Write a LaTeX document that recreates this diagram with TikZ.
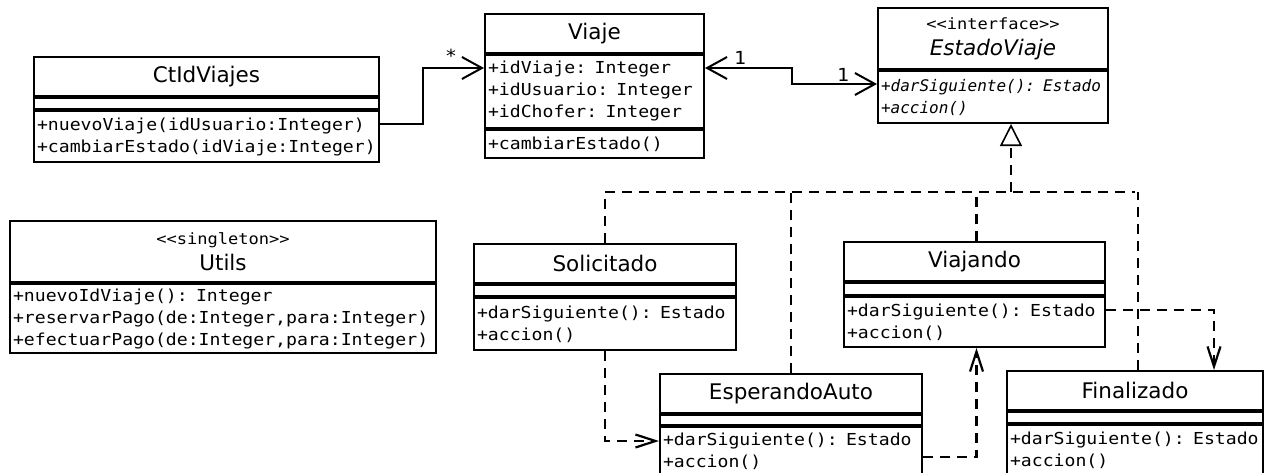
\documentclass[tikz,border=0pt]{standalone}
\usepackage{fontspec}
\usepackage{tikz}
\usetikzlibrary{arrows.meta,positioning}
\newfontfamily\umlsans{DejaVu Sans}
\newfontfamily\umlmono{DejaVu Sans Mono}[FakeStretch=1.1]
\newfontfamily\umlslant{DejaVu Sans Mono Oblique}
\newcommand{\namefont}{\umlsans\fontsize{21.5pt}{26pt}\selectfont}
\newcommand{\opsfont}{\umlmono\fontsize{16.5pt}{22pt}\selectfont\hyphenpenalty=10000\exhyphenpenalty=10000}
\newcommand{\slantfont}{\umlslant\fontsize{16pt}{22pt}\selectfont\hyphenpenalty=10000\exhyphenpenalty=10000}
\newcommand{\stereofont}{\umlmono\fontsize{15.5pt}{17pt}\selectfont}
\newcommand{\multfont}{\umlmono\fontsize{18pt}{20pt}\selectfont}

\begin{document}
\begin{tikzpicture}[x=1pt,y=-1pt,
  umlhead/.style={draw,line width=2pt,anchor=north west,inner sep=0pt,align=center,font=\namefont},
  umlpart/.style={draw,line width=2pt,anchor=north west,inner xsep=3pt,inner ysep=0pt,align=left,font=\opsfont},
  mult/.style={inner sep=0pt,font=\multfont},
  assoc/.style={line width=2pt},
  dep/.style={line width=2.2pt,dash pattern=on 10pt off 7pt},
  navtip/.style={-{Straight Barb[length=20pt,width=22pt]}},
  deptip/.style={-{Straight Barb[length=20pt,width=13pt]}}]

    \fill[white] (0,0) rectangle (1266,472);
    \useasboundingbox (0,0) rectangle (1266,472);

    % The controller
    \node [umlhead, minimum width=345pt, text width=345pt, minimum height=39pt] at (33,56) (ctlname) {CtIdViajes};
    \node [umlpart, minimum width=345pt, text width=339pt, minimum height=11pt] at (ctlname.south west) (ctlattr) {};
    \node [umlpart, minimum width=345pt, text width=339pt, minimum height=51pt] at (ctlattr.south west) (ctlops) {+nuevoViaje(idUsuario:Integer)\\+cambiarEstado(idViaje:Integer)};

    % The trip
    \node [umlhead, minimum width=219pt, text width=219pt, minimum height=39pt] at (484,13) (viajename) {Viaje};
    \node [umlpart, minimum width=219pt, text width=213pt, minimum height=73pt] at (viajename.south west) (viajeattr) {+idViaje: Integer\\+idUsuario: Integer\\+idChofer: Integer};
    \node [umlpart, minimum width=219pt, text width=213pt, minimum height=28pt] at (viajeattr.south west) (viajeops) {+cambiarEstado()};

    % The state interface
    \node [umlhead, minimum width=230pt, text width=230pt, minimum height=61pt] at (877,7) (estadoname) {{\stereofont <\kern0pt<interface>\kern0pt>}\\\itshape EstadoViaje};
    \node [umlpart, minimum width=230pt, text width=224pt, minimum height=52pt, font=\slantfont] at (estadoname.south west) (estadoops) {+darSiguiente(): Estado\\+accion()};

    % The singleton
    \node [umlhead, minimum width=426pt, text width=426pt, minimum height=61pt] at (9,220) (utilsname) {{\stereofont <\kern0pt<singleton>\kern0pt>}\\Utils};
    \node [umlpart, minimum width=426pt, text width=420pt, minimum height=69pt] at (utilsname.south west) (utilsops) {+nuevoIdViaje(): Integer\\+reservarPago(de:Integer,para:Integer)\\+efectuarPago(de:Integer,para:Integer)};

    % The states
    \node [umlhead, minimum width=262pt, text width=262pt, minimum height=39pt] at (473,243) (solname) {Solicitado};
    \node [umlpart, minimum width=262pt, text width=256pt, minimum height=11pt] at (solname.south west) (solattr) {};
    \node [umlpart, minimum width=262pt, text width=256pt, minimum height=52pt] at (solattr.south west) (solops) {+darSiguiente(): Estado\\+accion()};

    \node [umlhead, minimum width=262pt, text width=262pt, minimum height=39pt] at (659,373) (espname) {EsperandoAuto};
    \node [umlpart, minimum width=262pt, text width=256pt, minimum height=10pt] at (espname.south west) (espattr) {};
    \node [umlpart, minimum width=262pt, text width=256pt, minimum height=48pt] at (espattr.south west) (espops) {+darSiguiente(): Estado\\+accion()};

    \node [umlhead, minimum width=261pt, text width=261pt, minimum height=39pt] at (843,241) (vianame) {Viajando};
    \node [umlpart, minimum width=261pt, text width=255pt, minimum height=12pt] at (vianame.south west) (viaattr) {};
    \node [umlpart, minimum width=261pt, text width=255pt, minimum height=50pt] at (viaattr.south west) (viaops) {+darSiguiente(): Estado\\+accion()};

    \node [umlhead, minimum width=256pt, text width=256pt, minimum height=39pt] at (1006,370) (finname) {Finalizado};
    \node [umlpart, minimum width=256pt, text width=250pt, minimum height=11pt] at (finname.south west) (finattr) {};
    \node [umlpart, minimum width=256pt, text width=250pt, minimum height=50pt] at (finattr.south west) (finops) {+darSiguiente(): Estado\\+accion()};

    % Associations
    \draw[assoc, navtip] ([yshift=-14pt]ctlops.north east) -- ++(43,0) |- ([yshift=-14pt]viajeattr.north west);
    \draw[assoc, {Straight Barb[length=20pt,width=22pt]}-{Straight Barb[length=20pt,width=22pt]}] ([yshift=-14pt]viajeattr.north east) -- ++(87,0) |- ([yshift=-14pt]estadoops.north west);
    \node [mult] at ([xshift=-33pt,yshift=-2pt]viajeattr.north west) (lblmany) {*};
    \node [mult] at ([xshift=35pt,yshift=-4pt]viajeattr.north east) (lblviaje) {1};
    \node [mult] at ([xshift=-34pt,yshift=-5pt]estadoops.north west) (lblestado) {1};

    % Realization
    \coordinate (hub) at ([xshift=18pt,yshift=-68pt]estadoops.south);
    \draw[dep, -{Triangle[open,length=22pt,width=22pt,line width=1.6pt]}] (hub) -- ([xshift=18pt]estadoops.south);
    \path[dep]
    (solname.north |- hub) edge (finname.north |- hub)
    (solname.north) edge (solname.north |- hub)
    (espname.north) edge (espname.north |- hub)
    ([xshift=2pt]vianame.north) edge ([xshift=2pt]vianame.north |- hub)
    ([xshift=3pt]finname.north) edge ([xshift=3pt]finname.north |- hub)
    ;

    % Transitions
    \draw[dep, deptip] (solops.south) |- ([yshift=-15pt]espops.north west);
    \draw[dep, deptip] ([yshift=-6pt]espops.east) -| ([xshift=2pt]viaops.south);
    \draw[dep, deptip] ([yshift=-14pt]viaops.north east) -| ([xshift=79pt]finname.north);

\end{tikzpicture}
\end{document}
